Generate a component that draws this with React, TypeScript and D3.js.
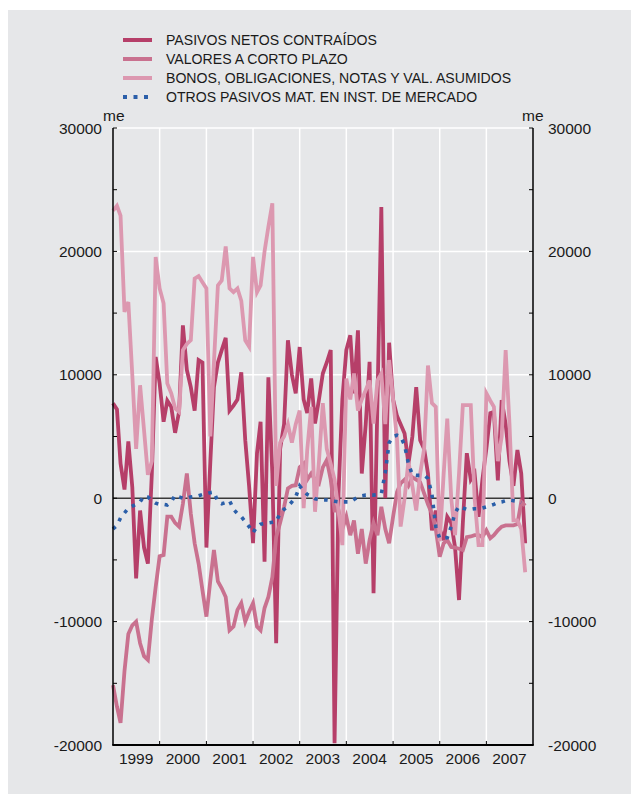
import React from "react";
import * as d3 from "d3";

// monthly series, Jan 1999 onwards (millones de euros)
const yearLabels = ["1999", "2000", "2001", "2002", "2003", "2004", "2005", "2006", "2007"];
const yTicks = [-20000, -10000, 0, 10000, 20000, 30000];

const pasivosNetos = [
  7700, 7200, 2800, 700, 4600, 900, -6500, -1000, -4000, -5300,
  2000, 11450, 9300, 6200, 7900, 7400, 5300, 7000, 14000, 10400,
  9000, 7100, 11200, 11000, -4000, 3000, 9000, 11000, 12000, 13000,
  7100, 7500, 8000, 10200, 4700, 1000, -3650, 3650, 6200, -5150,
  9800, 2000, -11750, 4000, 6000, 12800, 10000, 8500, 12250, 8000,
  6900, 9700, 6050, 8000, 10100, 11000, 12000, -19850, 400, 8000,
  12000, 13200, 8500, 13600, 2000, 6000, 11050, -7700, 8000, 23600,
  0, 12600, 8000, 6650, 6000, 5250, 2800, 5000, 9000, 4700,
  4000, 2000, -2600, -1000, -2500, -3400, -1500, -2000, -4000, -8250,
  -2000, 3650, 1500, 2000, -1500, 1500, 4000, 6900, 7000, 1450,
  7950, 6000, 3000, 1000, 3900, 2000, -3650,
];

const valoresCortoPlazo = [
  -15150, -16900, -18200, -14000, -11000, -10300, -10000, -11750, -12800, -13100,
  -9800, -7200, -4700, -4600, -1500, -1500, -2000, -2300, -450, 2000,
  -1250, -3650, -5300, -7450, -9600, -6650, -4200, -6750, -7300, -8000,
  -10700, -10400, -9050, -8500, -10000, -9200, -8500, -10400, -10700, -8900,
  -8000, -6400, -3150, -2000, -700, 800, 1000, 1050, 2500, 2800,
  1500, 2000, 1500, 1200, 2500, 3100, 1500, -1000, -1000, -2500,
  -1500, -3000, -1800, -4500, -2500, -5300, -3400, -2000, -3000, -700,
  -2500, -3650, -1500, 500, 1200, 1500, 1000, 1700, 1500, 1300,
  400, -500, -1250, -2500, -4750, -3650, -3400, -3950, -4000, -4100,
  -4200, -3150, -3100, -3000, -3000, -3150, -2600, -3250, -3000, -2600,
  -2300, -2200, -2200, -2200, -2100, -300, -600,
];

const bonosObligaciones = [
  23300, 23700, 22900, 15100, 15900, 10000, 4000, 9150, 5500, 1900,
  3000, 19550, 17000, 15800, 9300, 8500, 7300, 7000, 12000, 12500,
  12800, 17800, 18000, 17500, 17000, 5000, 11000, 17250, 17650, 20400,
  17000, 16700, 17000, 16000, 12800, 12300, 19550, 16700, 17250, 20000,
  22000, 23900, 1000, 4500, 5000, 6000, 4500, 6000, 7100, -800,
  3900, 7400, -1100, 3000, 7700, 4000, 2800, 1500, -1000, -3800,
  9700, 8000, 10100, 7100, 8000, 8750, 9550, 6050, 9550, 10100,
  6000, 11200, 8000, 4700, -2300, 0, 3000, 1000, -1000, 2000,
  4000, 10750, 7700, 7400, -3500, 2000, 6450, 0, -3000, 2000,
  7550, 7550, 7550, 0, -3800, -3800, 8500, 7900, 7400, 3000,
  5000, 12000, 6000, -1800, -1800, -2500, -6000,
];

const otrosPasivos = [
  -2500, -2200, -1600, -1200, -800, -650, -500, -300, 200, 100,
  -200, -400, -500, -500, -550, -300, 250, 100, 0, 0,
  100, 150, 200, 300, 350, 450, 500, -300, -450, -350,
  -200, -900, -1250, -1500, -1900, -2300, -2800, -2300, -2100, -2050,
  -2000, -1950, -1900, -1200, -900, -650, -300, 100, 1000, 600,
  300, 150, -50, -100, -150, -150, -200, -250, -300, -300,
  -300, -300, -100, 100, 200, 250, 250, 250, 300, 350,
  2100, 4500, 5000, 5100, 5000, 4300, 2800, 1900, 1850, 1850,
  1850, 1600, 300, -2300, -3250, -3250, -3200, -2300, -1200, -650,
  -800, -900, -900, -850, -850, -800, -700, -600, -500, -350,
  -300, -200, -150, -200, -250, -350,
];

const series = [
  { name: "PASIVOS NETOS CONTRAÍDOS", values: pasivosNetos, color: "#b63f69", dash: null },
  { name: "VALORES A CORTO PLAZO", values: valoresCortoPlazo, color: "#c9718f", dash: null },
  { name: "BONOS, OBLIGACIONES, NOTAS Y VAL. ASUMIDOS", values: bonosObligaciones, color: "#dc98b0", dash: null },
  { name: "OTROS PASIVOS MAT. EN INST. DE MERCADO", values: otrosPasivos, color: "#2b5fa9", dash: "3.6,6.4" },
];

const font = "'Liberation Sans', Arial, Helvetica, sans-serif";
const W = 631;
const H = 794;
const left = 113;
const right = 533;
const top = 128;
const bottom = 745;

export default function App() {
  const x = d3
    .scaleTime()
    .domain([new Date(1999, 0, 1), new Date(2008, 0, 1)])
    .range([left, right]);
  const y = d3.scaleLinear().domain([-20000, 30000]).range([bottom, top]);

  const line = d3
    .line<number>()
    .x((_, i) => x(new Date(1999, i, 1)))
    .y((d) => y(d))
    .curve(d3.curveLinear);

  const yearStarts = d3.timeYear.range(new Date(2000, 0, 1), new Date(2008, 0, 1));
  const minorTicks = y.ticks(10);

  return (
    <div style={{ position: "absolute", left: 0, top: 0 }}>
      <svg width={W} height={H} style={{ display: "block", fontFamily: font }}>
        <rect x={8} y={10} width={W - 8} height={H - 10} fill="#e6e7e9" />

        {/* legend */}
        {series.map((s, i) => {
          const ly = 40 + i * 19;
          return (
            <g key={s.name}>
              <line
                x1={123}
                x2={152}
                y1={ly}
                y2={ly}
                stroke={s.color}
                strokeWidth={4}
                strokeDasharray={s.dash ? "4,6.5" : undefined}
              />
              <text x={166} y={ly + 5} fontSize={14.1} fill="#1a1a1a">
                {s.name}
              </text>
            </g>
          );
        })}

        {/* grid */}
        {yTicks
          .filter((t) => t !== 0 && t !== -20000)
          .map((t) => (
            <line key={"gy" + t} x1={left} x2={right} y1={y(t)} y2={y(t)} stroke="#fff" strokeWidth={1.5} />
          ))}
        {yearStarts.map((d) => (
          <line key={"gx" + d.getFullYear()} x1={x(d)} x2={x(d)} y1={top} y2={bottom} stroke="#fff" strokeWidth={1.5} />
        ))}
        <line x1={left} x2={right} y1={y(0)} y2={y(0)} stroke="#3a3a3a" strokeWidth={1.6} />

        {/* series */}
        {series.map((s) => (
          <path
            key={"p" + s.name}
            d={line(s.values) || ""}
            fill="none"
            stroke={s.color}
            strokeWidth={s.dash ? 3.6 : 3.8}
            strokeDasharray={s.dash || undefined}
            strokeLinejoin="miter"
            strokeMiterlimit={4}
          />
        ))}

        {/* axes */}
        <line x1={left} x2={left} y1={top} y2={bottom} stroke="#000" strokeWidth={1.5} />
        <line x1={right} x2={right} y1={top} y2={bottom} stroke="#000" strokeWidth={1.5} />
        <line x1={left - 0.75} x2={right + 0.75} y1={bottom} y2={bottom} stroke="#000" strokeWidth={1.8} />
        {minorTicks.map((t) => (
          <g key={"t" + t}>
            <line x1={left} x2={left + 4} y1={y(t)} y2={y(t)} stroke="#000" strokeWidth={1} />
            <line x1={right - 4} x2={right} y1={y(t)} y2={y(t)} stroke="#000" strokeWidth={1} />
          </g>
        ))}
        {yearStarts.map((d) => (
          <line key={"tx" + d.getFullYear()} x1={x(d)} x2={x(d)} y1={bottom - 4} y2={bottom} stroke="#000" strokeWidth={1} />
        ))}

        {/* tick labels */}
        {yTicks.map((t) => (
          <g key={"l" + t} fontSize={15.5} fill="#1a1a1a">
            <text x={102} y={y(t) + 5.5} textAnchor="end">
              {t}
            </text>
            <text x={548} y={y(t) + 5.5} textAnchor="start">
              {t}
            </text>
          </g>
        ))}
        <text x={103} y={121} fontSize={15.5} fill="#1a1a1a">me</text>
        <text x={522} y={121} fontSize={15.5} fill="#1a1a1a">me</text>
        {yearLabels.map((yl) => (
          <text
            key={yl}
            x={x(new Date(+yl, 6, 1))}
            y={764}
            fontSize={15.5}
            textAnchor="middle"
            fill="#1a1a1a"
          >
            {yl}
          </text>
        ))}
      </svg>
    </div>
  );
}
